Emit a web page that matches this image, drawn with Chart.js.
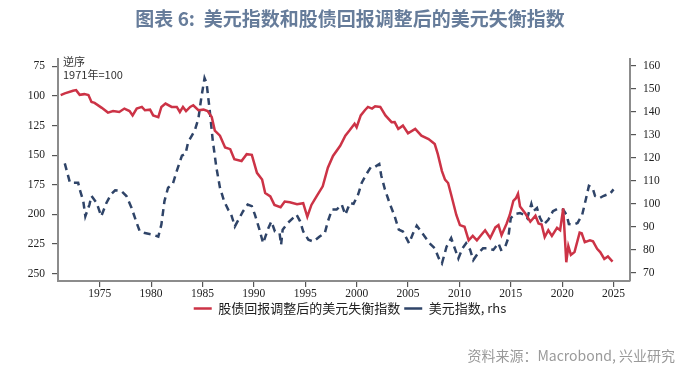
<!DOCTYPE html>
<html>
<head>
<meta charset="utf-8">
<script src="https://cdn.jsdelivr.net/npm/chart.js@4.4.1/dist/chart.umd.min.js"></script>
<style>
  html, body { margin: 0; padding: 0; background: #fff; }
  #wrap { position: relative; width: 700px; height: 369px; overflow: hidden; }
  #chart { position: absolute; left: 0; top: 0; }
  .title {
    position: absolute; left: 0; top: 4px; width: 700px; text-align: center;
    font-family: "Noto Sans CJK SC", sans-serif; font-weight: 600; font-size: 19px;
    color: #667c9a; line-height: 28px;
  }
  .note {
    position: absolute; left: 63px; top: 55px;
    font-family: "Noto Sans CJK SC", "Liberation Sans", sans-serif; font-size: 11px;
    color: #333; line-height: 13px;
  }
  .source {
    position: absolute; right: 25px; top: 346px;
    font-family: "Noto Sans CJK SC", sans-serif; font-size: 14px;
    color: #9a9a9a; line-height: 18px;
  }
</style>
</head>
<body>
<div id="wrap">
  <canvas id="chart" width="700" height="369"></canvas>
  <div class="title">图表 6:&nbsp; 美元指数和股债回报调整后的美元失衡指数</div>
  <div class="note">逆序<br>1971年=100</div>
  <div class="source">资料来源：Macrobond, 兴业研究</div>
</div>
<script>
// 股债回报调整后的美元失衡指数（左轴，逆序）
const imbalanceYears = [
  1971.2, 1971.6, 1972.4, 1972.7, 1973.05, 1973.5, 1973.9, 1974.2, 1974.5, 1975.2,
  1975.8, 1976.3, 1976.9, 1977.4, 1977.9, 1978.2, 1978.6, 1979.1, 1979.4, 1979.9,
  1980.2, 1980.7, 1981.0, 1981.4, 1982.0, 1982.5, 1982.8, 1983.1, 1983.4, 1983.8,
  1984.1, 1984.6, 1985.1, 1985.5, 1985.9, 1986.2, 1986.7, 1987.2, 1987.7, 1988.1,
  1988.8, 1989.3, 1989.8, 1990.3, 1990.8, 1991.1, 1991.6, 1992.0, 1992.6, 1993.0,
  1993.5, 1994.2, 1994.8, 1995.2, 1995.6, 1996.1, 1996.7, 1997.2, 1997.7, 1998.4,
  1998.9, 1999.3, 1999.8, 2000.0, 2000.4, 2000.8, 2001.1, 2001.5, 2001.8, 2002.3,
  2002.8, 2003.4, 2003.7, 2004.05, 2004.5, 2005.0, 2005.7, 2006.3, 2007.0, 2007.6,
  2007.9, 2008.3, 2008.6, 2008.9, 2009.2, 2009.7, 2010.05, 2010.5, 2010.9, 2011.3,
  2011.7, 2012.1, 2012.5, 2013.0, 2013.5, 2013.8, 2014.1, 2014.6, 2014.9, 2015.25,
  2015.5, 2015.7, 2015.9, 2016.4, 2016.9, 2017.4, 2017.7, 2018.0, 2018.3, 2018.65,
  2019.0, 2019.5, 2019.8, 2020.1, 2020.4, 2020.6, 2020.85, 2021.2, 2021.7, 2021.9,
  2022.2, 2022.7, 2023.0, 2023.4, 2023.7, 2024.1, 2024.45, 2024.9
]
const imbalanceValues = [
  99.2, 97.8, 95.5, 95, 99, 98.4, 99.2, 105, 105.8, 110,
  114, 112.7, 113.5, 110.6, 112.7, 116.4, 110.6, 109.2, 112, 111.5,
  116.4, 117.8, 109.2, 106.4, 109.2, 109.2, 113.5, 109.2, 112.7, 109.2,
  107.8, 112, 111.5, 112.7, 117.8, 129.2, 133.5, 143.5, 144.9, 153.4,
  154.9, 149.1, 149.7, 164.9, 170.6, 182, 184.8, 192, 194, 189.1,
  189.7, 191.4, 190.6, 202, 192, 184.8, 176.3, 160.6, 150.6, 142,
  133.5, 129.2, 123.5, 126.4, 116.4, 112, 109.2, 110.6, 108.6, 109.2,
  116.4, 122.1, 122, 127.8, 125, 131.5, 127.8, 133.5, 136.3, 140.6,
  149.1, 163.4, 170.6, 173.5, 183.4, 200.5, 209.1, 210.5, 221.9, 218.2,
  221.9, 217.6, 213.4, 220, 211, 209.1, 217.6, 207.7, 200.5, 188.5,
  186.3, 182.5, 193.4, 199.1, 206.2, 201.1, 207.7, 208.6, 219.1, 213.4,
  218.2, 211.4, 213.4, 194.9, 240.5, 226.8, 234.2, 231.9, 215.4, 216,
  223.4, 221.9, 222.8, 229.1, 231.9, 237.7, 235.6, 239.9
]

// 美元指数（右轴）
const dxyYears = [
  1971.6, 1972.1, 1972.9, 1973.05, 1973.4, 1973.6, 1974.0, 1974.2, 1974.7, 1975.15,
  1975.65, 1976.1, 1976.5, 1977.1, 1977.6, 1978.1, 1978.6, 1978.9, 1979.4, 1980.0,
  1980.7, 1981.0, 1981.3, 1981.65, 1982.1, 1982.5, 1983.0, 1983.35, 1983.6, 1984.25,
  1984.6, 1984.9, 1985.2, 1985.4, 1985.7, 1986.0, 1986.35, 1986.7, 1987.1, 1987.5,
  1987.8, 1988.15, 1988.5, 1988.95, 1989.4, 1989.8, 1990.1, 1990.5, 1990.9, 1991.35,
  1991.7, 1992.05, 1992.5, 1992.65, 1992.8, 1993.3, 1993.8, 1994.15, 1994.5, 1994.8,
  1995.3, 1995.8, 1996.4, 1996.9, 1997.2, 1997.6, 1998.05, 1998.55, 1998.9, 1999.35,
  1999.7, 2000.15, 2000.5, 2000.95, 2001.4, 2001.8, 2002.2, 2002.4, 2002.75, 2003.2,
  2003.7, 2004.1, 2004.5, 2005.1, 2005.5, 2005.85, 2006.5, 2007.1, 2007.6, 2008.0,
  2008.3, 2008.75, 2009.2, 2009.6, 2009.9, 2010.3, 2010.65, 2011.05, 2011.35, 2011.8,
  2012.3, 2012.8, 2013.3, 2013.8, 2014.05, 2014.4, 2014.75, 2015.0, 2015.4, 2015.9,
  2016.3, 2016.6, 2017.0, 2017.2, 2017.55, 2017.85, 2018.2, 2018.65, 2019.1, 2019.6,
  2020.1, 2020.45, 2020.65, 2021.1, 2021.5, 2021.95, 2022.3, 2022.6, 2022.95, 2023.2,
  2023.6, 2024.0, 2024.4, 2024.6, 2025.0
]
const dxyValues = [
  117.6, 109.2, 109.2, 106.3, 101.2, 94.6, 99.7, 103.4, 100.4, 94.6,
  100.4, 104.1, 105.9, 105.6, 103.4, 98.2, 91.7, 88, 87.3, 86.8,
  85.8, 91, 101.2, 107, 108.5, 114.3, 120.9, 121.7, 126.8, 131.9,
  137, 146.5, 154.6, 152.4, 140.7, 127.5, 115.8, 107, 101.2, 97.5,
  95.3, 90.2, 93.1, 96.8, 99.7, 99, 95.3, 89.5, 82.9, 88.8,
  92.4, 88, 87.3, 82.2, 88.8, 91.7, 93.8, 95.3, 92.4, 88,
  84.4, 83.6, 85.8, 87.3, 92.4, 97.5, 97.5, 99.7, 95.3, 100.4,
  100, 104.1, 109.2, 112.9, 116.1, 116.1, 117.3, 112.2, 106.3, 100.4,
  94.6, 88.8, 88, 82.9, 87.3, 90.5, 86.6, 82.9, 80.7, 76.3,
  74.1, 81.4, 85.1, 80, 76.3, 80.7, 82.9, 80, 75.6, 78.5,
  80.7, 80.7, 80, 82.9, 80, 80.7, 85.1, 93.8, 95.6, 96,
  95.3, 93.8, 100, 96.8, 98.2, 93.8, 91, 93.1, 96.8, 98,
  97.5, 95, 91.2, 91, 91.7, 95.3, 101.9, 107.8, 107, 103.4,
  102.4, 103.4, 104.1, 104.1, 106.3
]

const xTicks = [1975, 1980, 1985, 1990, 1995, 2000, 2005, 2010, 2015, 2020, 2025]
const leftTicks = [75, 100, 125, 150, 175, 200, 225, 250]
const rightTicks = [70, 80, 90, 100, 110, 120, 130, 140, 150, 160]

const toPoints = (xs, ys) => xs.map((x, i) => ({ x: x, y: ys[i] }))
const setTicks = list => scale => { scale.ticks = list.map(v => ({ value: v })) }

const tickFont = { family: "'Liberation Serif', 'DejaVu Serif', serif", size: 11.5 }
const axisLine = { display: true, color: '#8c8c8c', width: 2 }
const tickGrid = { drawOnChartArea: false, drawTicks: true, tickLength: 6, color: '#555', lineWidth: 1.2 }

new Chart(document.getElementById('chart'), {
  type: 'line',
  data: {
    datasets: [
      {
        label: '股债回报调整后的美元失衡指数',
        data: toPoints(imbalanceYears, imbalanceValues),
        borderColor: '#cc3346',
        backgroundColor: '#cc3346',
        borderWidth: 2.5,
        pointRadius: 0,
        tension: 0,
        yAxisID: 'y'
      },
      {
        label: '美元指数, rhs',
        data: toPoints(dxyYears, dxyValues),
        borderColor: '#2f4468',
        backgroundColor: '#2f4468',
        borderWidth: 2.5,
        borderDash: [7, 5],
        pointRadius: 0,
        tension: 0,
        yAxisID: 'y1'
      }
    ]
  },
  options: {
    responsive: false,
    animation: false,
    layout: { padding: { top: 59, left: 0, right: 0, bottom: 44 } },
    plugins: {
      legend: {
        position: 'bottom',
        labels: {
          usePointStyle: true,
          pointStyle: 'line',
          pointStyleWidth: 18,
          padding: 4,
          color: '#222',
          font: { family: 'Noto Sans CJK SC', size: 13 }
        }
      },
      tooltip: { enabled: false }
    },
    scales: {
      x: {
        type: 'linear',
        min: 1970.94,
        max: 2026.6,
        afterBuildTicks: setTicks(xTicks),
        afterFit: scale => { scale.height = 17 },
        border: axisLine,
        grid: tickGrid,
        ticks: { color: '#222', font: tickFont, padding: 0, maxRotation: 0, callback: v => String(v) }
      },
      y: {
        position: 'left',
        reverse: true,
        min: 68.7,
        max: 256.3,
        afterBuildTicks: setTicks(leftTicks),
        afterFit: scale => { scale.width = 58 },
        border: axisLine,
        grid: tickGrid,
        ticks: { color: '#222', font: tickFont, padding: 7 }
      },
      y1: {
        position: 'right',
        min: 66.5,
        max: 162.9,
        afterBuildTicks: setTicks(rightTicks),
        afterFit: scale => { scale.width = 70 },
        border: axisLine,
        grid: tickGrid,
        ticks: { color: '#222', font: tickFont, padding: 7 }
      }
    }
  }
})
</script>
</body>
</html>
